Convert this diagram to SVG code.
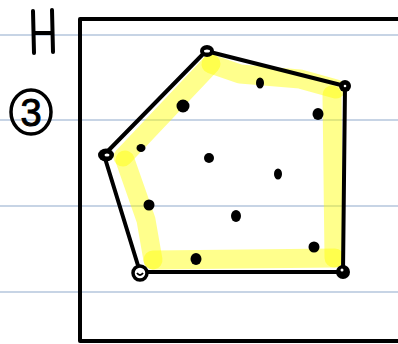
<svg xmlns="http://www.w3.org/2000/svg" width="398" height="344" viewBox="0 0 398 344">
<style>
.rule{stroke:#b4c6dd;stroke-width:1.5}
.ink{fill:none;stroke:#000;stroke-width:4;stroke-linecap:round;stroke-linejoin:round}
.hl{fill:none;stroke:#ffff00;stroke-opacity:0.45;stroke-width:19;stroke-linecap:round;stroke-linejoin:round}
.dot{fill:#000}
.txt{font-family:"Liberation Sans",Arial,sans-serif;fill:#000}
</style>
<rect width="398" height="344" fill="#fff"/>
<g id="rules">
<line class="rule" x1="0" y1="35" x2="398" y2="35"/>
<line class="rule" x1="0" y1="120" x2="398" y2="120"/>
<line class="rule" x1="0" y1="206" x2="398" y2="206"/>
<line class="rule" x1="0" y1="292" x2="398" y2="292"/>
</g>
<g id="label-H">
<path class="ink" d="M33 11 L34 53 M52 10 L53 52 M34 33 L52 33" stroke-width="3.5"/>
</g>
<g id="label-3">
<ellipse cx="31" cy="112" rx="20" ry="22" fill="none" stroke="#000" stroke-width="3.5"/>
<text class="txt" x="31" y="126" font-size="38" text-anchor="middle" stroke="#000" stroke-width="1">3</text>
</g>
<g id="frame">
<path class="ink" d="M400 19 L80 19 L80 341 L400 341" stroke-width="4"/>
</g>
<g id="highlight">
<path class="hl" d="M211 64 L123 157"/>
<path class="hl" d="M125 160 L146 220 L153 260"/>
<path class="hl" d="M153 260 L335 258"/>
<path class="hl" d="M334 258 L332 95"/>
<path class="hl" d="M336 89 L300 79 L240 74 L211 64"/>
</g>
<g id="connectors">
<path class="ink" d="M206 51 L345 86 L343 272 L140 272 L104 155 Z"/>
</g>
<g id="vertices">
<g id="v-top"><ellipse cx="207" cy="51" rx="7" ry="6" class="dot"/><ellipse cx="207" cy="51" rx="3" ry="1.5" fill="#fff"/></g>
<g id="v-right-top"><circle cx="345" cy="86" r="6" class="dot"/><circle cx="345" cy="86" r="1.3" fill="#fff"/></g>
<g id="v-right-bottom"><circle cx="343" cy="272" r="7" class="dot"/><circle cx="342" cy="270" r="1.5" fill="#fff"/></g>
<g id="v-bottom-left"><circle cx="140" cy="273" r="7" fill="#fff" stroke="#000" stroke-width="3.5"/><path d="M137 273 Q140 277 143 273" fill="none" stroke="#000" stroke-width="2"/></g>
<g id="v-left"><ellipse cx="106" cy="155" rx="8" ry="6.5" class="dot"/><ellipse cx="107" cy="155" rx="2.5" ry="1.5" fill="#fff"/></g>
</g>
<g id="points">
<circle class="dot" cx="183" cy="106" r="6.5"/>
<ellipse class="dot" cx="141" cy="148" rx="4.5" ry="4"/>
<ellipse class="dot" cx="260" cy="83" rx="4" ry="5.5"/>
<ellipse class="dot" cx="318" cy="114" rx="5.5" ry="6"/>
<circle class="dot" cx="209" cy="158" r="5"/>
<ellipse class="dot" cx="278" cy="174" rx="4" ry="5.5"/>
<circle class="dot" cx="149" cy="205" r="5.5"/>
<ellipse class="dot" cx="236" cy="216" rx="5" ry="6"/>
<ellipse class="dot" cx="196" cy="259" rx="5.5" ry="6"/>
<ellipse class="dot" cx="314" cy="247" rx="5.5" ry="5.5"/>
</g>
</svg>
